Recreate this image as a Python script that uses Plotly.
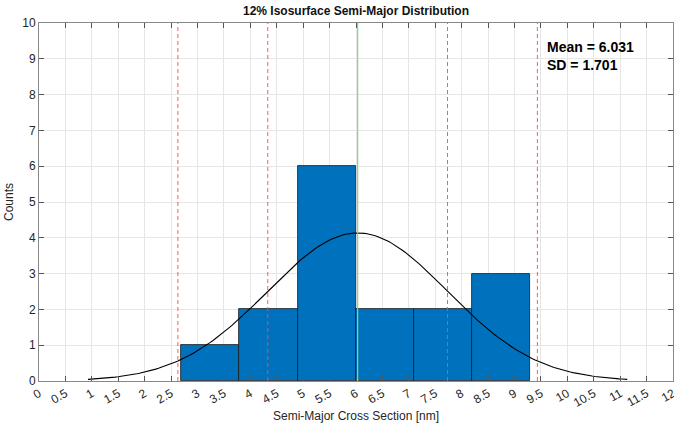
import numpy as np
import plotly.graph_objects as go

# Data
bin_edges = [2.69, 3.792, 4.894, 5.996, 7.098, 8.200, 9.302]
counts = [1, 2, 6, 2, 2, 3]
mean_val = 6.031
sd_val = 1.701
x_ticks = [i * 0.5 for i in range(25)]
y_ticks = list(range(11))

centers = [(a + b) / 2 for a, b in zip(bin_edges[:-1], bin_edges[1:])]
widths = [b - a for a, b in zip(bin_edges[:-1], bin_edges[1:])]
n_total = sum(counts)
bw = np.mean(widths)

# fitted normal curve (mean ± 3 SD)
xc = np.linspace(mean_val - 3 * sd_val, mean_val + 3 * sd_val, 200)
yc = n_total * bw / (sd_val * np.sqrt(2 * np.pi)) * np.exp(-0.5 * ((xc - mean_val) / sd_val) ** 2)

font_fam = "Liberation Sans, Arial, sans-serif"
fig = go.Figure()
fig.add_trace(go.Bar(x=centers, y=counts, width=widths,
                     marker=dict(color="#0072BD", line=dict(color="#1a1a1a", width=0.8)),
                     showlegend=False, hoverinfo="skip"))
fig.add_trace(go.Scatter(x=xc, y=yc, mode="lines", line=dict(color="black", width=1.1),
                         showlegend=False, hoverinfo="skip"))

shapes = []
for k in (-2, -1, 1, 2):
    xv = mean_val + k * sd_val
    shapes.append(dict(type="line", xref="x", yref="y", x0=xv, x1=xv, y0=0, y1=10,
                       line=dict(color="rgba(240,80,80,0.9)", width=1, dash="4px,3px"), layer="above"))
shapes.append(dict(type="line", xref="x", yref="y", x0=mean_val, x1=mean_val, y0=0, y1=10,
                   line=dict(color="#77E077", width=1.2), layer="above"))

fig.update_layout(
    width=674, height=423,
    margin=dict(l=39, r=1, t=23, b=42, autoexpand=False),
    plot_bgcolor="white", paper_bgcolor="white",
    font=dict(family=font_fam, size=12, color="#262626"),
    shapes=shapes,
    bargap=0,
    title=dict(text="<b>12% Isosurface Semi-Major Distribution</b>", x=0.5, xanchor="center",
               xref="paper", y=0.985, yanchor="top", font=dict(size=12, color="#111")),
    annotations=[dict(text="<b>Mean = 6.031<br>SD = 1.701</b>", xref="x", yref="y",
                      x=9.58, y=9.6, xanchor="left", yanchor="top", showarrow=False,
                      align="left", font=dict(size=14, color="black"))],
    xaxis=dict(range=[0, 12], tickvals=x_ticks, ticktext=[f"{v:g}" for v in x_ticks],
               tickangle=-30, ticks="inside", ticklen=5, tickcolor="#555",
               ticklabeloverflow="allow", automargin=False,
               showline=True, linecolor="#888", linewidth=1, mirror="ticks",
               showgrid=True, gridcolor="#e6e6e6", gridwidth=1, zeroline=False,
               title=dict(text="Semi-Major Cross Section [nm]", standoff=2, font=dict(size=12))),
    yaxis=dict(range=[0, 10], tickvals=y_ticks, ticks="inside", ticklen=5, tickcolor="#555",
               automargin=False,
               showline=True, linecolor="#888", linewidth=1, mirror="ticks",
               showgrid=True, gridcolor="#e6e6e6", gridwidth=1, zeroline=False,
               title=dict(text="Counts", standoff=6, font=dict(size=12))),
)
fig.write_html("out.html")
